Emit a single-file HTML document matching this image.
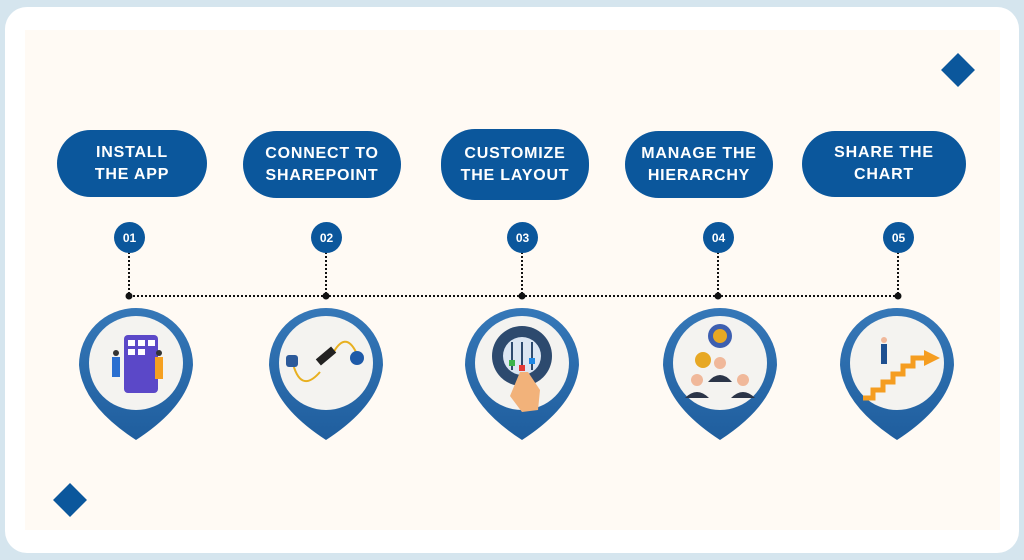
<!DOCTYPE html>
<html><head><meta charset="utf-8"><style>
html,body{margin:0;padding:0}
body{width:1024px;height:560px;background:#d5e5ee;position:relative;overflow:hidden;font-family:"Liberation Sans",sans-serif}
.card{position:absolute;left:5px;top:7px;width:1014px;height:546px;background:#fff;border-radius:22px}
.cream{position:absolute;left:25px;top:30px;width:975px;height:500px;background:#fffaf4}
.pill{position:absolute;background:#0b579c;color:#fff;border-radius:34px;display:flex;align-items:center;justify-content:center;text-align:center;font-weight:bold;font-size:16px;line-height:22px;letter-spacing:0.8px}
.num{position:absolute;width:31px;height:31px;border-radius:50%;background:#0b579c;color:#fff;font-weight:bold;font-size:12px;display:flex;align-items:center;justify-content:center}
</style></head><body>
<div class="card"></div>
<div class="cream"></div>
<div class="pill" style="left:57px;top:130px;width:150px;height:67px">INSTALL<br>THE APP</div>
<div class="pill" style="left:243px;top:131px;width:158px;height:67px">CONNECT TO<br>SHAREPOINT</div>
<div class="pill" style="left:441px;top:129px;width:148px;height:71px">CUSTOMIZE<br>THE LAYOUT</div>
<div class="pill" style="left:625px;top:131px;width:148px;height:67px">MANAGE THE<br>HIERARCHY</div>
<div class="pill" style="left:802px;top:131px;width:164px;height:66px">SHARE THE<br>CHART</div>
<svg width="1024" height="560" style="position:absolute;left:0;top:0">
<g stroke="#111" stroke-width="2" stroke-dasharray="2 2" fill="none">
<line x1="129" y1="296" x2="898" y2="296"/>
<line x1="129" y1="252" x2="129" y2="296"/>
<line x1="326" y1="252" x2="326" y2="296"/>
<line x1="522" y1="252" x2="522" y2="296"/>
<line x1="718" y1="252" x2="718" y2="296"/>
<line x1="898" y1="252" x2="898" y2="296"/>
</g>
<g fill="#111"><circle cx="129" cy="296" r="3.5"/><circle cx="326" cy="296" r="3.5"/><circle cx="522" cy="296" r="3.5"/><circle cx="718" cy="296" r="3.5"/><circle cx="898" cy="296" r="3.5"/></g>
<rect x="946" y="58" width="24" height="24" fill="#0b579c" transform="rotate(45 958 70)"/>
<rect x="58" y="488" width="24" height="24" fill="#0b579c" transform="rotate(45 70 500)"/>
<defs><linearGradient id="pg" x1="0" y1="0" x2="0" y2="1"><stop offset="0" stop-color="#3678b8"/><stop offset="1" stop-color="#1f5e9e"/></linearGradient></defs>
<g id="pins">
<path d="M79,365 A57,57 0 1,1 193,365 Q190,405 136,440 Q82,405 79,365Z" fill="url(#pg)"/>
<circle cx="136" cy="363" r="47" fill="#f4f3f0"/>
<path d="M269,365 A57,57 0 1,1 383,365 Q380,405 326,440 Q272,405 269,365Z" fill="url(#pg)"/>
<circle cx="326" cy="363" r="47" fill="#f4f3f0"/>
<path d="M465,365 A57,57 0 1,1 579,365 Q576,405 522,440 Q468,405 465,365Z" fill="url(#pg)"/>
<circle cx="522" cy="363" r="47" fill="#f4f3f0"/>
<path d="M663,365 A57,57 0 1,1 777,365 Q774,405 720,440 Q666,405 663,365Z" fill="url(#pg)"/>
<circle cx="720" cy="363" r="47" fill="#f4f3f0"/>
<path d="M840,365 A57,57 0 1,1 954,365 Q951,405 897,440 Q843,405 840,365Z" fill="url(#pg)"/>
<circle cx="897" cy="363" r="47" fill="#f4f3f0"/>
</g>
<!-- icon 1 -->
<rect x="124" y="335" width="34" height="58" rx="4" fill="#5b48c8"/>
<g fill="#fff"><rect x="128" y="340" width="7" height="6"/><rect x="138" y="340" width="7" height="6"/><rect x="148" y="340" width="7" height="6"/><rect x="128" y="349" width="7" height="6"/><rect x="138" y="349" width="7" height="6"/></g>
<rect x="112" y="357" width="8" height="20" fill="#2a6fd0"/><circle cx="116" cy="353" r="3" fill="#333"/>
<rect x="155" y="357" width="8" height="22" fill="#f5a020"/><circle cx="159" cy="353" r="3" fill="#333"/>
<!-- icon 2 -->
<path d="M292,360 Q300,395 320,372 M332,355 Q345,330 356,352" stroke="#e8b020" stroke-width="2" fill="none"/>
<rect x="286" y="355" width="12" height="12" rx="3" fill="#2c5a9a"/>
<circle cx="357" cy="358" r="7" fill="#1e5aa8"/>
<rect x="316" y="352" width="20" height="8" fill="#222" transform="rotate(-40 326 356)"/>
<!-- icon 3 -->
<circle cx="522" cy="356" r="30" fill="#2d4a6e"/>
<circle cx="522" cy="356" r="19" fill="#dce6f2"/>
<g stroke="#2d4a6e" stroke-width="2"><line x1="512" y1="342" x2="512" y2="370"/><line x1="522" y1="342" x2="522" y2="370"/><line x1="532" y1="342" x2="532" y2="370"/></g>
<rect x="509" y="360" width="6" height="6" fill="#3bb34a"/><rect x="519" y="365" width="6" height="6" fill="#e53935"/><rect x="529" y="358" width="6" height="6" fill="#1e88e5"/>
<path d="M520,372 L528,372 L540,390 L538,410 L522,412 L510,396Z" fill="#f2b27a"/>
<!-- icon 4 -->
<circle cx="720" cy="336" r="12" fill="#3d5fb0"/><circle cx="720" cy="336" r="7" fill="#e7a824"/>
<circle cx="703" cy="360" r="8" fill="#e7a824"/>
<g fill="#f0b89a"><circle cx="720" cy="363" r="6"/><circle cx="697" cy="380" r="6"/><circle cx="743" cy="380" r="6"/></g>
<g fill="#2b3548"><path d="M708,382 Q720,368 732,382Z"/><path d="M685,398 Q697,386 709,398Z"/><path d="M731,398 Q743,386 755,398Z"/></g>
<!-- icon 5 -->
<path d="M863,398 L873,398 L873,390 L883,390 L883,382 L893,382 L893,374 L903,374 L903,366 L913,366 L913,358 L925,358" stroke="#f59d20" stroke-width="5" fill="none"/>
<path d="M924,350 L940,358 L924,366Z" fill="#f59d20"/>
<rect x="881" y="344" width="6" height="20" fill="#1d4f90"/><circle cx="884" cy="340" r="3" fill="#f0b89a"/>
</svg>
<div class="num" style="left:114px;top:222px">01</div>
<div class="num" style="left:311px;top:222px">02</div>
<div class="num" style="left:507px;top:222px">03</div>
<div class="num" style="left:703px;top:222px">04</div>
<div class="num" style="left:883px;top:222px">05</div>
</body></html>
